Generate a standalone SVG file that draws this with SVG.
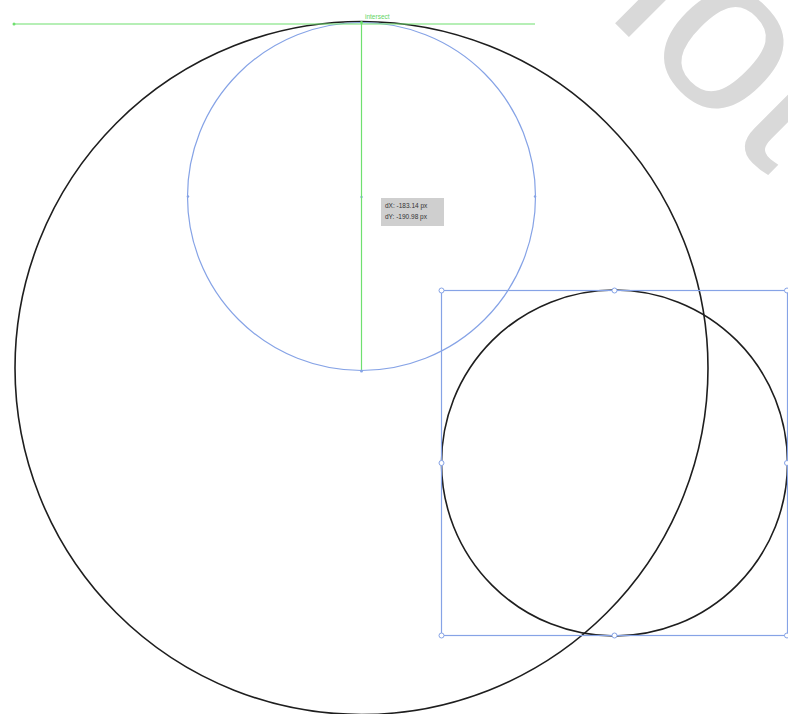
<svg xmlns="http://www.w3.org/2000/svg" width="788" height="714" viewBox="0 0 788 714">
  <style>
    .black { fill: none; stroke: #1e1e1e; stroke-width: 1.6; }
    .blue { fill: none; stroke: #86a3e6; stroke-width: 1.2; }
    .green { fill: none; stroke: #6fe06f; stroke-width: 1.2; }
    .anchor { fill: #ffffff; stroke: #86a3e6; stroke-width: 1; }
    .tip { font-family: "Liberation Sans", Arial, sans-serif; font-size: 6.5px; fill: #333333; }
    .lbl { font-family: "Liberation Sans", Arial, sans-serif; font-size: 6.5px; fill: #5fd45f; }
    .wm { font-family: "Liberation Sans", Arial, sans-serif; font-size: 220px; fill: #d9d9d9; }
  </style>
  <rect x="0" y="0" width="788" height="714" fill="#ffffff"/>

  <g id="watermark">
    <text class="wm" transform="translate(466,-126) rotate(45)" x="0" y="0">photo</text>
  </g>

  <g id="big-circle">
    <circle class="black" cx="361.5" cy="368" r="346.5"/>
  </g>

  <g id="blue-circle">
    <circle class="blue" cx="361.5" cy="196.5" r="174"/>
    <circle cx="361.5" cy="197" r="1.2" fill="#86a3e6"/>
    <circle cx="188" cy="196.5" r="1.2" fill="#86a3e6"/>
    <circle cx="535" cy="196.5" r="1.2" fill="#86a3e6"/>
  </g>

  <g id="small-circle">
    <circle class="black" cx="614.5" cy="463" r="173"/>
  </g>

  <g id="bounding-box">
    <rect class="blue" x="441.5" y="290.5" width="346" height="345"/>
    <circle class="anchor" cx="441.5" cy="290.5" r="2.5"/>
    <circle class="anchor" cx="614.5" cy="290.5" r="2.5"/>
    <circle class="anchor" cx="787" cy="290.5" r="2.5"/>
    <circle class="anchor" cx="441.5" cy="463" r="2.5"/>
    <circle class="anchor" cx="787" cy="463" r="2.5"/>
    <circle class="anchor" cx="441.5" cy="635.5" r="2.5"/>
    <circle class="anchor" cx="614.5" cy="635.5" r="2.5"/>
    <circle class="anchor" cx="787" cy="635.5" r="2.5"/>
  </g>

  <g id="connectors">
    <line class="green" x1="13" y1="24" x2="535" y2="24"/>
    <line class="green" x1="361.5" y1="22" x2="361.5" y2="371"/>
    <circle cx="14" cy="24" r="1.5" fill="#6fe06f"/>
    <circle cx="361.5" cy="371" r="1.5" fill="#86a3e6"/>
    <circle cx="361.5" cy="22.5" r="1.5" fill="#6fe06f"/>
  </g>

  <g id="intersect-label">
    <text class="lbl" x="365" y="19">intersect</text>
  </g>

  <g id="tooltip">
    <rect x="381" y="198" width="63" height="28" fill="#cfcfcf"/>
    <text class="tip" x="385" y="208">dX: -183.14 px</text>
    <text class="tip" x="385" y="219">dY: -190.98 px</text>
  </g>
</svg>
